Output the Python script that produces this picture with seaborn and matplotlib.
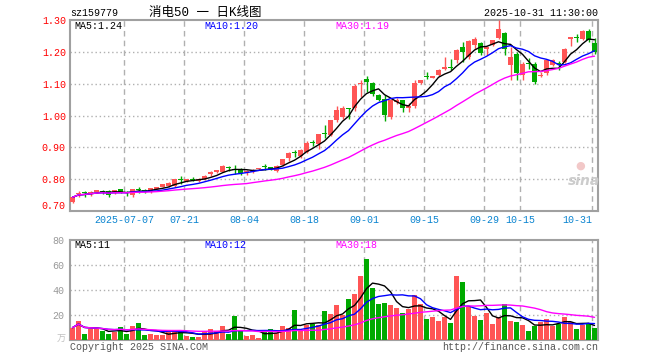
import numpy as np
import pandas as pd
import matplotlib
matplotlib.use('Agg')
import matplotlib.pyplot as plt
import seaborn as sns

# daily K line 2025-06-24 .. 2025-10-31 (88 sessions), prices in yuan, volume in 万
open_ = [0.729, 0.752, 0.758, 0.753, 0.761, 0.764, 0.764, 0.761, 0.769, 0.758,
         0.750, 0.769, 0.766, 0.764, 0.770, 0.776, 0.779, 0.778, 0.799, 0.795,
         0.800, 0.795, 0.799, 0.816, 0.822, 0.824, 0.837, 0.831, 0.829, 0.822,
         0.823, 0.831, 0.841, 0.837, 0.826, 0.844, 0.865, 0.884, 0.872, 0.886,
         0.917, 0.912, 0.945, 0.938, 0.985, 0.996, 1.022, 1.022, 1.098, 1.115,
         1.103, 1.064, 1.051, 0.996, 1.043, 1.048, 1.023, 1.029, 1.102, 1.125,
         1.119, 1.126, 1.147, 1.151, 1.175, 1.215, 1.184, 1.222, 1.229, 1.210,
         1.222, 1.243, 1.260, 1.160, 1.194, 1.126, 1.165, 1.163, 1.124, 1.132,
         1.158, 1.165, 1.168, 1.241, 1.245, 1.241, 1.267, 1.229]
close = [0.743, 0.758, 0.755, 0.761, 0.765, 0.761, 0.750, 0.765, 0.759, 0.755,
         0.769, 0.766, 0.761, 0.771, 0.774, 0.784, 0.787, 0.799, 0.796, 0.799,
         0.797, 0.800, 0.810, 0.821, 0.829, 0.841, 0.834, 0.828, 0.820, 0.826,
         0.829, 0.835, 0.838, 0.831, 0.841, 0.862, 0.883, 0.881, 0.891, 0.914,
         0.913, 0.941, 0.941, 0.985, 1.017, 1.025, 1.019, 1.093, 1.102, 1.105,
         1.069, 1.050, 1.001, 1.050, 1.048, 1.022, 1.029, 1.102, 1.110, 1.121,
         1.123, 1.144, 1.152, 1.148, 1.207, 1.200, 1.234, 1.239, 1.197, 1.215,
         1.236, 1.271, 1.210, 1.185, 1.132, 1.163, 1.162, 1.105, 1.128, 1.173,
         1.173, 1.162, 1.210, 1.246, 1.242, 1.267, 1.236, 1.199]
high = [0.747, 0.763, 0.764, 0.763, 0.766, 0.766, 0.767, 0.767, 0.770, 0.764,
        0.770, 0.775, 0.768, 0.772, 0.776, 0.786, 0.790, 0.800, 0.809, 0.800,
        0.806, 0.803, 0.813, 0.825, 0.830, 0.843, 0.842, 0.843, 0.836, 0.830,
        0.832, 0.836, 0.849, 0.838, 0.843, 0.864, 0.884, 0.893, 0.896, 0.920,
        0.922, 0.943, 0.970, 0.987, 1.030, 1.030, 1.024, 1.100, 1.110, 1.123,
        1.105, 1.068, 1.064, 1.052, 1.056, 1.050, 1.040, 1.110, 1.112, 1.137,
        1.125, 1.146, 1.184, 1.176, 1.210, 1.231, 1.236, 1.246, 1.232, 1.217,
        1.238, 1.299, 1.262, 1.215, 1.200, 1.168, 1.180, 1.168, 1.137, 1.175,
        1.176, 1.170, 1.212, 1.247, 1.256, 1.270, 1.273, 1.243]
low = [0.726, 0.745, 0.745, 0.748, 0.755, 0.752, 0.745, 0.752, 0.757, 0.746,
       0.745, 0.757, 0.757, 0.756, 0.768, 0.774, 0.776, 0.776, 0.785, 0.790,
       0.793, 0.792, 0.797, 0.810, 0.820, 0.822, 0.826, 0.815, 0.812, 0.813,
       0.820, 0.829, 0.828, 0.828, 0.824, 0.842, 0.858, 0.870, 0.868, 0.883,
       0.905, 0.896, 0.928, 0.935, 0.980, 0.990, 0.990, 1.015, 1.058, 1.074,
       1.062, 1.045, 0.983, 0.990, 1.035, 1.012, 1.012, 1.025, 1.100, 1.115,
       1.117, 1.124, 1.144, 1.142, 1.165, 1.168, 1.178, 1.210, 1.189, 1.189,
       1.218, 1.240, 1.189, 1.111, 1.111, 1.111, 1.145, 1.100, 1.120, 1.128,
       1.155, 1.142, 1.165, 1.217, 1.230, 1.238, 1.230, 1.193]
volume = [9.9, 15.5, 4.8, 8.8, 8.8, 7.2, 4.8, 6.7, 10.4, 4.8,
          11.2, 13.6, 4.0, 4.8, 4.0, 4.0, 6.4, 7.2, 8.0, 3.2,
          2.1, 2.7, 7.2, 8.8, 7.2, 11.2, 4.8, 19.2, 8.0, 3.5,
          4.0, 1.6, 8.0, 8.8, 5.3, 11.2, 9.6, 24.0, 8.0, 12.0,
          12.8, 12.0, 23.2, 20.8, 28.0, 20.0, 32.8, 36.8, 51.2, 64.8,
          41.9, 28.8, 29.6, 28.0, 25.6, 21.6, 24.8, 36.0, 28.8, 16.8,
          18.4, 15.2, 18.4, 13.6, 51.2, 46.4, 27.2, 19.2, 16.0, 21.6,
          12.8, 18.4, 28.8, 15.2, 14.4, 12.0, 7.2, 11.2, 14.4, 16.5,
          11.2, 12.8, 18.4, 14.4, 8.8, 12.0, 13.3, 9.6]

holidays = ['2025-10-01', '2025-10-02', '2025-10-03', '2025-10-06', '2025-10-07', '2025-10-08']
tick_dates = ['2025-07-07', '2025-07-21', '2025-08-04', '2025-08-18', '2025-09-01',
              '2025-09-15', '2025-09-29', '2025-10-15', '2025-10-31']
tick_labels = ['2025-07-07', '07-21', '08-04', '08-18', '09-01', '09-15', '09-29', '10-15', '10-31']
price_ticks = [0.70, 0.80, 0.90, 1.00, 1.10, 1.20, 1.30]
vol_ticks = [20, 40, 60, 80]
price_ma_text = ['MA5:1.24', 'MA10:1.20', 'MA30:1.19']
vol_ma_text = ['MA5:11', 'MA10:12', 'MA30:18']

sns.set_theme(style='white')
mono = ['Liberation Mono', 'DejaVu Sans Mono']
plt.rcParams['font.family'] = mono

RED = '#ff5555'
GREEN = '#00aa00'
MA_COLORS = ['black', '#0000ff', '#ff00ff']
FRAME = '#a0a0a0'
GRID = '#b0b0b0'

dates = pd.bdate_range('2025-06-24', '2025-10-31')
dates = dates[~dates.isin(pd.to_datetime(holidays))]
df = pd.DataFrame({'open': open_, 'high': high, 'low': low, 'close': close,
                   'volume': volume}, index=dates)
df['x'] = np.arange(len(df))
df['xc'] = df['x'] + 0.42
up = df['close'] >= df['open']
colors = np.where(up, RED, GREEN)
tick_pos = [df.index.get_loc(pd.Timestamp(d)) for d in tick_dates]

fig = plt.figure(figsize=(6.6, 3.6), dpi=100)
W, H = 660, 360
ax1 = fig.add_axes([70 / W, 1 - 211 / H, 528 / W, 191 / H])
ax2 = fig.add_axes([70 / W, 1 - 340 / H, 528 / W, 100 / H])

# candles
body_lo = df[['open', 'close']].min(axis=1)
body_h = np.maximum((df['close'] - df['open']).abs(), 0.0032)
ax1.vlines(df['xc'], df['low'], df['high'], colors=colors, lw=1, zorder=3)
ax1.bar(df['xc'], body_h, bottom=body_lo, width=0.8, color=colors, linewidth=0, zorder=3)

for n, col in zip([5, 10, 30], MA_COLORS):
    ma = df['close'].rolling(n, min_periods=1).mean()
    sns.lineplot(x=df['xc'], y=ma, ax=ax1, color=col, lw=1, zorder=4)
    vma = df['volume'].rolling(n, min_periods=1).mean()
    sns.lineplot(x=df['xc'], y=vma, ax=ax2, color=col, lw=1, zorder=4)

ax2.bar(df['xc'], df['volume'], width=0.8, color=colors, linewidth=0, zorder=3)

for ax, ylim, hlines in [(ax1, (0.70, 1.30), price_ticks[1:-1]), (ax2, (0, 80), vol_ticks[:-1])]:
    ax.set_xlim(0, len(df))
    ax.set_ylim(*ylim)
    ax.set_xlabel('')
    ax.set_ylabel('')
    for p in tick_pos:
        ax.axvline(p, color=GRID, ls=(0, (4, 3)), lw=1, zorder=1)
    for v in hlines:
        ax.axhline(v, color=GRID, ls=(0, (1, 2)), lw=1, zorder=1)
    for s in ax.spines.values():
        s.set_color(FRAME)
        s.set_linewidth(1.5)
    ax.tick_params(length=0, labelsize=7.2)

ax1.set_yticks(price_ticks, [f'{v:.2f}' for v in price_ticks])
ax1.tick_params(axis='y', colors='#ff0000', pad=3)
ax1.set_xticks(tick_pos, tick_labels)
ax1.tick_params(axis='x', colors='#0a84d0', pad=3)
xl = ax1.get_xticklabels()
xl[-1].set_horizontalalignment('right')
yl = ax1.get_yticklabels()
yl[0].set_verticalalignment('bottom')

ax2.set_yticks(vol_ticks, [str(v) for v in vol_ticks])
ax2.tick_params(axis='y', colors='#999999', pad=4)
ax2.set_xticks([])


def ftext(x, y, s, **kw):
    kw.setdefault('fontsize', 7.2)
    kw.setdefault('va', 'center')
    fig.text(x / W, 1 - y / H, s, **kw)


ftext(70, 13, 'sz159779', color='black')
ftext(205, 13, '消电50 一 日K线图', ha='center', fontsize=9,
      family=['Liberation Mono', 'Noto Sans CJK SC'], color='black')
ftext(598, 13, '2025-10-31 11:30:00', ha='right', color='black')
for x, s, c in zip([74, 204, 335], price_ma_text, MA_COLORS):
    ftext(x, 26, s, color=c)
for x, s, c in zip([74, 204, 335], vol_ma_text, MA_COLORS):
    ftext(x, 245, s, color=c)
ftext(66, 339, '万', ha='right', color='#c0c0c0', fontsize=6.5,
      family=['Noto Sans CJK SC', 'DejaVu Sans'])
ftext(70, 347, 'Copyright 2025 SINA.COM', color='#555555')
ftext(598, 347, 'http://finance.sina.com.cn', ha='right', color='#555555')
ftext(584, 181, 'sina', ha='center', color='#cccccc', fontsize=10,
      fontstyle='italic', fontweight='bold', family=['DejaVu Sans'])
ftext(580, 166, '●', ha='center', color='#f2c8c8', fontsize=8, family=['DejaVu Sans'])

fig.savefig('out.png', dpi=100, facecolor='white')
